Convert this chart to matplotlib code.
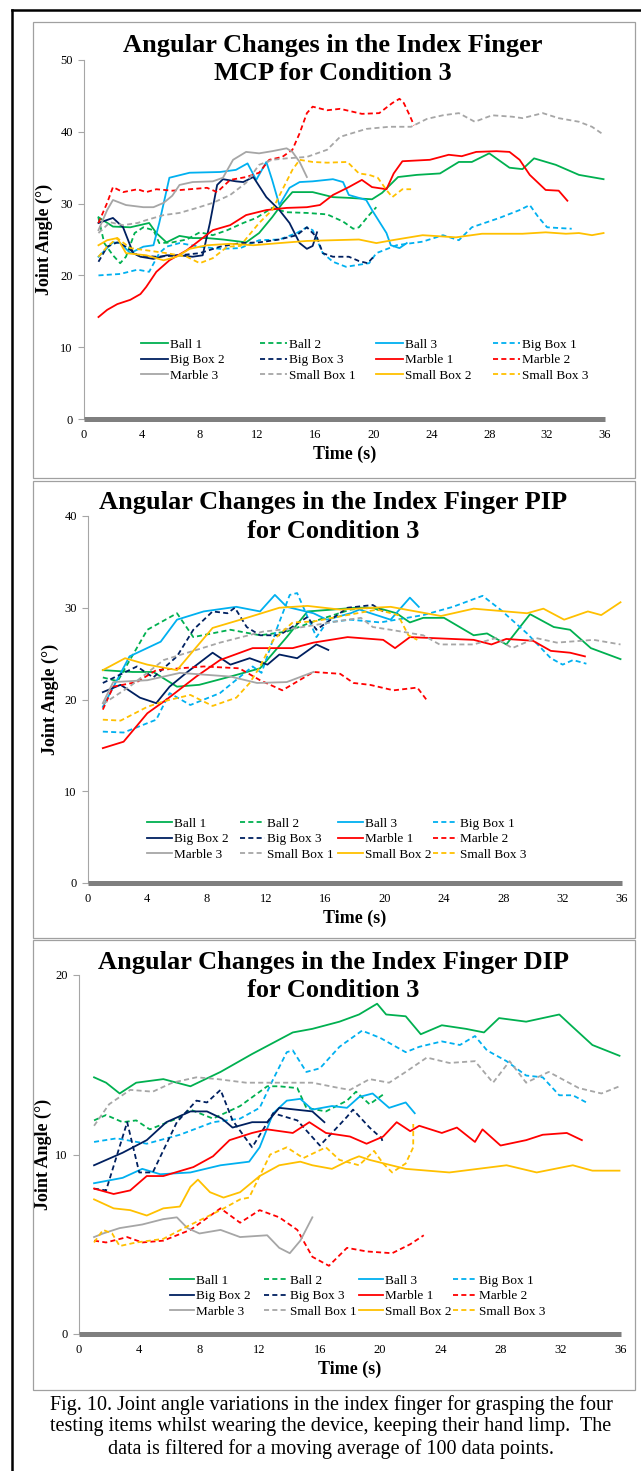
import matplotlib
matplotlib.use('Agg')
import matplotlib.pyplot as plt
from matplotlib.patches import Rectangle
from matplotlib.lines import Line2D
from matplotlib.legend import Legend

plt.rcParams['font.family'] = ['Liberation Serif', 'DejaVu Serif']

# Series names and styles (same for the three joints)
labels = ['Ball 1', 'Ball 2', 'Ball 3', 'Big Box 1', 'Big Box 2', 'Big Box 3',
          'Marble 1', 'Marble 2', 'Marble 3', 'Small Box 1', 'Small Box 2', 'Small Box 3']
colors = ['#00B050', '#00B050', '#00B0F0', '#00B0F0', '#002060', '#002060',
          '#FF0000', '#FF0000', '#A6A6A6', '#A6A6A6', '#FFC000', '#FFC000']
dash = (0, (2.8, 1.8))
styles = ['-', dash] * 6

time_ticks = [0, 4, 8, 12, 16, 20, 24, 28, 32, 36]

# ---------------- MCP (time s, angle deg) ----------------
mcp_ball_1 = [(1, 28.1), (2, 26.8), (3.2, 26.7), (4.5, 27.3), (5, 25.9), (5.7, 24.6), (6.6, 25.5), (7.5, 25.2),
              (8.5, 25.2), (9.6, 25), (11.2, 24.6), (12.1, 25.9), (13, 28.1), (13.7, 30), (14.4, 31.6), (15.8, 31.6),
              (17.2, 30.9), (18.3, 30.8), (19.9, 30.6), (20.6, 31.5), (21.7, 33.7), (23, 34), (24.6, 34.2),
              (25.9, 35.8), (26.8, 35.8), (28, 37), (29.4, 35), (30.3, 34.8), (31.1, 36.3), (32.6, 35.4),
              (34.2, 34), (35.9, 33.4)]
mcp_ball_2 = [(1, 28), (1.4, 24.5), (2, 22.8), (2.5, 21.7), (2.9, 22.6), (3.5, 25.9), (4.1, 26.7), (4.8, 26.3),
              (5.2, 24.5), (6.1, 24.6), (7.1, 25), (8, 26), (8.9, 25.6), (9.9, 26.3), (11, 27.3), (11.9, 28),
              (13, 29.4), (14, 28.8), (15.4, 28.7), (16.8, 28.5), (17.9, 27.5), (18.6, 26.5), (19, 26.7),
              (19.7, 28.4), (20.2, 29.5)]
mcp_ball_3 = [(1, 22.6), (2, 24.6), (2.5, 24.5), (3.2, 23.1), (4.1, 24), (4.8, 24.2), (5.2, 27.3), (5.9, 33.6),
              (7.3, 34.3), (9.4, 34.4), (10.5, 34.7), (11.3, 35.6), (11.9, 33.3), (12.6, 35.8), (13, 33.3),
              (13.5, 29.8), (14.2, 32.2), (14.9, 33), (15.8, 33.1), (17.2, 33.4), (17.9, 33), (18.3, 31.2),
              (19.5, 30.5), (19.9, 29.1), (20.9, 25.9), (21.2, 24.2), (21.8, 23.8), (22.3, 24.5)]
mcp_big_box_1 = [(1, 20), (2.5, 20.2), (3.7, 20.8), (4.5, 20.5), (5.2, 23.1), (5.7, 24), (6.6, 24.5), (8, 24),
                 (9.4, 23.7), (10.8, 23.8), (12.1, 24.9), (13.5, 25), (14.7, 25.9), (15.4, 26.7), (15.8, 26.3),
                 (16.5, 23.1), (17.2, 21.9), (18.1, 21.2), (19.7, 21.7), (20.2, 23.1), (21.6, 24.2), (23.4, 24.7),
                 (24.8, 25.6), (25.9, 24.9), (26.8, 26.7), (28.7, 28), (30.1, 29.1), (30.8, 29.8), (31.4, 28.1),
                 (32, 26.7), (32.8, 26.6), (33.7, 26.5)]
mcp_big_box_2 = [(1, 27.3), (2, 28), (2.7, 26.7), (3.4, 23.1), (3.9, 22.6), (4.8, 22.3), (5.7, 22.8), (6.6, 22.8),
                 (7.5, 22.6), (8.2, 22.8), (8.7, 27.3), (9.2, 32.6), (9.6, 33.4), (10.5, 33.1), (11, 33),
                 (11.7, 33.7), (12.6, 30.9), (13.5, 29.1), (14.2, 27.3), (14.9, 24.5), (15.4, 23.7), (15.8, 24.1),
                 (16.1, 26)]
mcp_big_box_3 = [(1, 21.9), (1.6, 24), (2.3, 24.6), (2.9, 24), (3.7, 22.8), (5, 22.6), (6.6, 22.8), (8, 23.1),
                 (9.4, 24), (10.8, 24.5), (12.1, 24.6), (13.5, 25), (14.7, 25.6), (15.4, 26.7), (16.1, 25.3),
                 (16.5, 23.1), (17.2, 22.6), (18.3, 22.6), (19, 22), (19.6, 21.7), (20.1, 22.8)]
mcp_marble_1 = [(1, 14.2), (1.6, 15.2), (2.3, 16), (3.2, 16.6), (3.9, 17.4), (4.3, 18.4), (5, 20.5), (5.9, 22.1),
                (7.1, 23.5), (8, 24.9), (8.9, 26.3), (10.1, 27), (11.2, 28.4), (12.6, 29.1), (14, 29.4),
                (15.4, 29.5), (16.3, 29.8), (17.2, 31.2), (18.3, 32.3), (19.2, 33.3), (19.9, 32.3), (20.9, 32),
                (21.4, 34.2), (22, 35.9), (23.9, 36.1), (25.2, 36.8), (26.1, 36.6), (27.1, 37.2), (28.5, 37.3),
                (29.4, 37.2), (30.1, 36.1), (30.8, 34), (31.9, 31.9), (32.8, 31.8), (33.4, 30.4)]
mcp_marble_2 = [(1, 27.3), (1.6, 30.1), (2, 32.3), (2.7, 31.6), (3.7, 32), (4.3, 31.6), (5, 32), (6.1, 31.8),
                (7.3, 32), (8.5, 32.2), (9.2, 31.6), (10.1, 33.3), (11.2, 33.7), (12.1, 34.3), (12.8, 36.1),
                (13.7, 36.5), (14.4, 37.5), (14.9, 39.8), (15.4, 42.6), (15.8, 43.5), (16.8, 43), (17.7, 43.2),
                (19.2, 42.5), (20.4, 42.6), (21.3, 44), (21.8, 44.6), (22.1, 44), (22.5, 42.3), (22.8, 40.9)]
mcp_marble_3 = [(1, 26.3), (1.6, 29.1), (2, 30.5), (2.9, 29.8), (4.1, 29.5), (4.8, 29.5), (5.5, 30.1), (6.1, 31.1),
                (6.6, 32.6), (7.5, 33), (8.9, 33.1), (9.6, 33.6), (10.3, 36.1), (11.2, 37.2), (12.1, 37),
                (13, 37.3), (14, 37.7), (14.4, 37.2), (14.9, 35.8), (15.4, 33.7)]
mcp_small_box_1 = [(1, 25.9), (1.8, 27.4), (2.7, 27), (3.7, 27.3), (4.3, 27.7), (5.5, 28.4), (6.6, 28.7),
                   (7.8, 29.4), (8.9, 30.1), (10.1, 31.2), (11.2, 32.9), (12.1, 35.4), (13, 36.1), (14, 36.3),
                   (15.4, 36.5), (16.8, 37.5), (17.7, 39.3), (19.5, 40.4), (21.1, 40.7), (22.6, 40.7), (23.7, 41.8),
                   (24.8, 42.3), (25.9, 42.6), (27, 41.4), (28.2, 42.3), (29.6, 42.1), (30.3, 41.9), (31.7, 42.6),
                   (32.8, 41.9), (34.2, 41.4), (35.1, 40.7), (35.9, 39.6)]
mcp_small_box_2 = [(1, 24.2), (1.6, 24.9), (2.3, 25.2), (2.9, 23.1), (4.3, 22.8), (5.5, 22.1), (6.4, 22.6),
                   (7.3, 23.7), (8.5, 24.2), (10.1, 24.4), (11.7, 24.2), (13.5, 24.5), (15.4, 24.8), (17.2, 24.9),
                   (19, 25), (20.2, 24.5), (21.3, 24.9), (23.4, 25.6), (25.7, 25.3), (27.5, 25.8), (30.3, 25.8),
                   (31.9, 26), (33.3, 25.8), (34.2, 25.9), (35.1, 25.6), (35.9, 25.9)]
mcp_small_box_3 = [(1, 22.6), (1.6, 24), (2.3, 25.2), (3.2, 23.8), (4.3, 23.5), (5.7, 23.1), (7.1, 22.6), (8, 21.7),
                   (8.9, 22.4), (9.9, 24), (10.8, 24.1), (11.4, 25.6), (12.1, 27.3), (13, 29.1), (13.7, 31.9),
                   (14.4, 34.7), (14.9, 36.1), (15.8, 35.8), (16.8, 35.7), (18.2, 35.8), (19, 34.2), (19.7, 34),
                   (20.3, 33.6), (20.9, 31.9), (21.3, 30.9), (22, 32), (22.6, 32)]

# ---------------- PIP ----------------
pip_ball_1 = [(1, 23.2), (3, 23), (4.4, 23), (6, 21.4), (7.5, 21.6), (9.6, 22.5), (11.6, 23.4), (13.4, 26.8),
              (14.8, 29.6), (16.5, 29.8), (18, 30), (19.5, 30), (20.8, 29.4), (21.7, 28.4), (22.6, 28.9),
              (24, 28.9), (26, 27), (26.9, 27.2), (28.2, 26), (29.8, 29.3), (31.4, 27.9), (32.5, 27.6),
              (33.9, 25.6), (35.9, 24.4)]
pip_ball_2 = [(1, 22.4), (2, 22), (4, 27.6), (6, 29.4), (7.1, 26.8), (9.6, 27.6), (11.6, 27), (13.4, 27.4),
              (15.2, 28.5), (17.7, 29.8), (19.2, 30), (19.8, 29.6)]
pip_ball_3 = [(1, 19.2), (2.8, 24.7), (4.9, 26.3), (6, 28.7), (7.8, 29.6), (10, 30.1), (11.6, 29.6), (12.6, 31.4),
              (13.4, 30.1), (15.2, 29.4), (16.1, 28.7), (17.7, 29.4), (18.3, 29.8), (20.4, 28.7), (21.7, 31.1),
              (22.3, 30.1)]
pip_big_box_1 = [(1, 16.5), (2.4, 16.4), (4.6, 17.8), (5.5, 20.7), (6.9, 19.4), (8.9, 20.7), (11.1, 23.6),
                 (11.7, 22.9), (12.7, 27.6), (13.6, 31.4), (14.1, 31.6), (15.4, 26.8), (16.1, 28.4), (17.7, 28.7),
                 (19.7, 28.4), (22.6, 29.2), (24.6, 30.1), (26.6, 31.3), (27.8, 29.8), (29.6, 27.2), (31.2, 24.5),
                 (32, 23.8), (32.7, 24.3), (33.6, 23.9)]
pip_big_box_2 = [(1, 20.8), (2.2, 21.6), (3.5, 20.2), (4.6, 19.6), (5.5, 21.4), (6.7, 23), (8.4, 25.1), (9.6, 23.8),
                 (10.9, 24.5), (12.1, 23.8), (12.9, 24.9), (14.1, 24.5), (15.4, 26), (16.2, 25.4)]
pip_big_box_3 = [(1, 21.8), (3.3, 23.6), (4.4, 22.4), (6, 24.7), (7.1, 27.6), (8.4, 29.6), (9.4, 29.4), (9.9, 30),
                 (10.7, 27.9), (11.6, 27), (12.9, 27), (14.8, 29), (15.4, 27.6), (17.5, 30), (19.2, 30.3),
                 (19.9, 29.6)]
pip_marble_1 = [(1, 14.7), (2.4, 15.4), (4, 18.5), (5.3, 20), (7.3, 22.5), (8.9, 24.3), (11.1, 25.6), (13.8, 25.6),
                (15.2, 26.2), (17.5, 26.8), (19.9, 26.5), (20.7, 25.6), (21.7, 26.8), (26, 26.5), (27.2, 26),
                (28.2, 26.6), (30, 26.4), (31.2, 25.3), (32.5, 25.1), (33.5, 24.7)]
pip_marble_2 = [(1, 18.9), (1.7, 21.4), (3.3, 21.9), (4.6, 23.2), (7.8, 23.6), (10.2, 23.4), (11.6, 22.1),
                (13.1, 21), (15.2, 23), (17, 22.8), (17.9, 21.8), (19, 21.6), (20.6, 21), (22.2, 21.3), (22.9, 19.8)]
pip_marble_3 = [(1, 19.6), (1.7, 21.9), (4, 22.1), (6.2, 22.9), (9.6, 22.5), (11.4, 21.8), (13.4, 21.9),
                (15.2, 23)]
pip_small_box_1 = [(1, 19.5), (2.8, 21.4), (5.1, 24.3), (7.3, 25.4), (8.9, 26.2), (11.8, 27.4), (14.1, 27.8),
                   (17.5, 28.7), (18.4, 28.9), (19.2, 27.9), (20.4, 27.6), (22.6, 27), (23.7, 26), (26, 26),
                   (27.5, 26.7), (28.6, 25.6), (30.2, 26.7), (31.6, 26.2), (34.1, 26.5), (35.9, 26)]
pip_small_box_2 = [(1, 23.2), (2.5, 24.5), (4, 23.8), (6, 23.2), (7.3, 25.7), (8.4, 27.8), (10.7, 28.9),
                   (12.9, 30), (14.8, 30.2), (17, 29.8), (20.4, 30.1), (23.8, 29.1), (26, 29.9), (29.6, 29.4),
                   (30.7, 29.9), (32.1, 28.7), (33.7, 29.6), (34.6, 29.2), (35.9, 30.6)]
pip_small_box_3 = [(1, 17.8), (2.2, 17.7), (4, 19.2), (5.1, 19.8), (6.9, 20.5), (8.4, 19.3), (10, 20.2),
                   (10.9, 21.8), (11.6, 23.6), (12.5, 26.5), (13.8, 28.4), (15.2, 28.5), (16.8, 29), (19.5, 29.8),
                   (20.9, 29.2), (21.6, 27), (22.2, 26.5)]

# ---------------- DIP ----------------
dip_ball_1 = [(1, 14.3), (1.8, 14), (2.7, 13.4), (3.8, 14), (5.6, 14.2), (7.4, 13.8), (9.4, 14.6), (11.5, 15.6),
              (14.2, 16.8), (15.5, 17), (17.3, 17.4), (18.6, 17.8), (19.8, 18.4), (20.4, 17.8), (21.7, 17.7),
              (22.7, 16.7), (24.1, 17.2), (25.7, 17), (26.9, 16.8), (27.9, 17.6), (29.7, 17.4), (31.9, 17.8),
              (32.8, 17.1), (34.1, 16.1), (35.9, 15.5)]
dip_ball_2 = [(1, 11.9), (1.8, 12.2), (2.9, 11.8), (3.8, 11.9), (4.7, 11.4), (6.5, 12), (7.4, 12.5), (8.9, 12),
              (10.7, 12.7), (12.5, 13.8), (13.3, 13.8), (14.5, 13.7), (15.1, 12.6), (16.4, 12.4), (17.8, 13),
              (18.4, 13.5), (19.3, 12.8), (20.3, 13.4)]
dip_ball_3 = [(1, 8.4), (2.9, 8.7), (4.2, 9.2), (5.4, 8.9), (7.4, 9), (9.4, 9.4), (11.3, 9.6), (12, 10.4),
              (12.9, 12.3), (13.8, 13), (14.7, 13.1), (15.5, 12.5), (16.8, 12.7), (17.8, 12.6), (18.6, 13.2),
              (19.5, 13.4), (20.6, 12.6), (21.7, 12.9), (22.3, 12.3)]
dip_big_box_1 = [(1, 10.7), (2.5, 10.9), (4.5, 10.6), (6.7, 11.1), (8.9, 11.8), (10.7, 12), (12, 12.6),
                 (12.9, 14.2), (13.8, 15.7), (14.2, 15.8), (15.1, 14.6), (16, 14.8), (17.3, 16), (18.8, 16.9),
                 (20, 16.5), (21.7, 15.7), (22.6, 16), (24.1, 16.3), (25.3, 16.1), (26.3, 16.6), (27.1, 15.8),
                 (28.4, 15.2), (29.7, 14.4), (30.8, 14.3), (31.9, 13.3), (32.8, 13.3), (33.7, 12.9)]
dip_big_box_2 = [(1, 9.4), (2.9, 10.1), (4.5, 10.8), (5.8, 11.8), (7.4, 12.4), (8.5, 12.4), (9.5, 12),
                 (10.2, 11.5), (11.5, 11.8), (12.5, 11.8), (13.3, 12.6), (15.5, 12.4), (16.3, 11.8)]
dip_big_box_3 = [(1, 8.1), (1.8, 8), (3.2, 11.8), (4, 9), (4.9, 9), (6.5, 11.8), (7.8, 13), (8.5, 12.9),
                 (9.4, 13.6), (10.2, 11.9), (11.5, 10.4), (12.9, 12.3), (14.5, 11.9), (16, 10.5), (16.8, 11.2),
                 (17.8, 12.1), (18.2, 12.5), (19.3, 11.5), (20.1, 10.9), (20.2, 10.6)]
dip_marble_1 = [(1, 8.1), (2.3, 7.8), (3.4, 8), (4.5, 8.8), (5.6, 8.8), (7.6, 9.3), (8.9, 9.9), (10, 10.8),
                (11.5, 11.2), (12.5, 11.4), (14.2, 11.2), (15.3, 11.8), (16.4, 11.2), (18, 11), (19.1, 10.6),
                (20.2, 11), (21.1, 11.8), (22, 11.3), (22.6, 11.6), (24.1, 11.2), (25.1, 11.5), (26.3, 10.7),
                (26.8, 11.4), (28, 10.5), (29.7, 10.8), (30.8, 11.1), (32.4, 11.2), (33.4, 10.8)]
dip_marble_2 = [(1, 5.2), (1.8, 5.1), (3.2, 5.4), (4.2, 5.1), (5.6, 5.2), (7.4, 5.8), (9.4, 7), (10.7, 6.2),
                (12, 6.9), (13.3, 6.5), (14.5, 5.8), (15.5, 4.3), (16.6, 3.8), (17.8, 4.8), (19.1, 4.6),
                (20.8, 4.5), (22, 5), (22.9, 5.5)]
dip_marble_3 = [(1, 5.4), (1.6, 5.6), (2.7, 5.9), (4.2, 6.1), (5.6, 6.4), (6.5, 6.5), (7.2, 5.9), (8, 5.6),
                (9.4, 5.8), (10.7, 5.4), (12.5, 5.5), (13.3, 4.8), (14, 4.5), (14.7, 5.2), (15.5, 6.5)]
dip_small_box_1 = [(1, 11.6), (2, 12.8), (3.4, 13.6), (4.9, 13.5), (6.2, 14), (7.8, 14.3), (9.2, 14.2), (11.1, 14),
                   (13.3, 14), (15.5, 14), (17.3, 13.7), (18, 13.6), (19.3, 14.2), (20.6, 14), (21.7, 14.6),
                   (23.1, 15.4), (24.6, 15.1), (26.3, 15.2), (27.5, 14), (28.6, 15.2), (29.7, 14), (31.2, 14.6),
                   (33.2, 13.7), (34.7, 13.4), (35.9, 13.8)]
dip_small_box_2 = [(1, 7.5), (2.3, 7), (3.4, 6.9), (4.5, 6.6), (5.6, 7), (6.7, 7.1), (7.4, 8.2), (7.9, 8.6),
                   (8.7, 7.9), (9.6, 7.6), (10.7, 7.9), (12, 8.8), (13.3, 9.4), (14.7, 9.6), (15.5, 9.4),
                   (16.8, 9.2), (18, 9.7), (18.6, 9.9), (19.3, 9.7), (21.7, 9.2), (24.6, 9), (28.4, 9.4),
                   (30.4, 9), (32.8, 9.4), (34.1, 9.1), (35.9, 9.1)]
dip_small_box_3 = [(1, 5.1), (1.6, 5.8), (2.2, 5.6), (2.7, 4.9), (3.8, 5.1), (5.6, 5.3), (7.2, 6), (9.4, 6.9),
                   (10.7, 7.5), (11.3, 7.6), (12, 8.8), (12.7, 10), (13.8, 10.4), (14.9, 9.8), (16.4, 10.4),
                   (17.3, 9.7), (18.6, 9.4), (19.6, 10.2), (20.2, 9.5), (20.8, 9), (21.7, 9.5), (22.2, 10.4),
                   (22.2, 11.7)]

mcp_series = [mcp_ball_1, mcp_ball_2, mcp_ball_3, mcp_big_box_1, mcp_big_box_2, mcp_big_box_3,
              mcp_marble_1, mcp_marble_2, mcp_marble_3, mcp_small_box_1, mcp_small_box_2, mcp_small_box_3]
pip_series = [pip_ball_1, pip_ball_2, pip_ball_3, pip_big_box_1, pip_big_box_2, pip_big_box_3,
              pip_marble_1, pip_marble_2, pip_marble_3, pip_small_box_1, pip_small_box_2, pip_small_box_3]
dip_series = [dip_ball_1, dip_ball_2, dip_ball_3, dip_big_box_1, dip_big_box_2, dip_big_box_3,
              dip_marble_1, dip_marble_2, dip_marble_3, dip_small_box_1, dip_small_box_2, dip_small_box_3]

W, H = 641, 1471


def fx(px):
    return px / W


def fy(py):
    return 1 - py / H


fig = plt.figure(figsize=(W / 100, H / 100), dpi=100)

# outer black frame (right and bottom sides fall outside the picture)
fig.add_artist(Line2D([fx(12), fx(12)], [0, fy(10)], color='black', lw=1.8))
fig.add_artist(Line2D([fx(12), 1], [fy(10), fy(10)], color='black', lw=1.8))


def draw_panel(series, title, ymax, yticks, axbox, border, title_y, leg_x, leg_y, handle_len, ylab_off):
    left, top, right, bottom = axbox
    # gray chart border
    x0, y0, x1, y1 = border
    fig.add_artist(Rectangle((fx(x0), fy(y1)), fx(x1) - fx(x0), fy(y0) - fy(y1),
                             transform=fig.transFigure, fill=False, ec='#A0A0A0', lw=0.9))
    ax = fig.add_axes([fx(left), fy(bottom), fx(right) - fx(left), fy(top) - fy(bottom)])
    lines = []
    for data, lab, col, st in zip(series, labels, colors, styles):
        t = [p[0] for p in data]
        v = [p[1] for p in data]
        ln, = ax.plot(t, v, color=col, linestyle=st, lw=1.3, label=lab,
                      solid_joinstyle='round', dash_joinstyle='round')
        lines.append(ln)
    ax.set_xlim(0, 36)
    ax.set_ylim(0, ymax)
    ax.set_xticks(time_ticks)
    ax.set_yticks(yticks)
    for s in ['top', 'right']:
        ax.spines[s].set_visible(False)
    ax.spines['left'].set_color('#A6A6A6')
    ax.spines['left'].set_linewidth(0.8)
    ax.spines['bottom'].set_color('#7F7F7F')
    ax.spines['bottom'].set_linewidth(3.6)
    ax.spines['bottom'].set_capstyle('butt')
    ax.tick_params(axis='y', direction='out', length=4, width=0.8, color='#A6A6A6',
                   labelsize=9, pad=4)
    ax.tick_params(axis='x', length=0, labelsize=9, pad=7)

    ax.set_xlabel('Time (s)', fontsize=13, fontweight='bold')
    ax.set_ylabel('Joint Angle (°)', fontsize=13, fontweight='bold')
    w = right - left
    h = bottom - top
    ax.xaxis.set_label_coords(0.5, -27 / h)
    ax.yaxis.set_label_coords(-ylab_off / w, 0.5)

    fig.text(fx(333), fy(title_y), title, ha='center', va='center', fontsize=19,
             fontweight='bold', linespacing=1.3)

    # legend: four columns of three entries
    for c in range(4):
        hs = [lines[c], lines[c + 4], lines[c + 8]]
        leg = Legend(ax, hs, [h_.get_label() for h_ in hs], loc='upper left',
                     bbox_to_anchor=((leg_x[c] - left) / w, (bottom - (leg_y - 8.5)) / h),
                     frameon=False, borderpad=0, borderaxespad=0, fontsize=9.5,
                     handlelength=handle_len, handletextpad=0.15, labelspacing=0.24)
        ax.add_artist(leg)
    return ax


draw_panel(mcp_series, 'Angular Changes in the Index Finger\nMCP for Condition 3', 50,
           [0, 10, 20, 30, 40, 50], (84, 60, 605, 419), (33, 22, 635, 478), 59.5,
           [141, 260, 376, 493], 347, 2.05, 31)
draw_panel(pip_series, 'Angular Changes in the Index Finger PIP\nfor Condition 3', 40,
           [0, 10, 20, 30, 40], (88, 516, 622, 883), (33, 481, 635, 938), 517,
           [147, 240, 338, 433], 826, 1.9, 29)
draw_panel(dip_series, 'Angular Changes in the Index Finger DIP\nfor Condition 3', 20,
           [0, 10, 20], (79, 975, 621, 1334), (33, 940, 635, 1390), 976.5,
           [170, 264, 359, 453], 1283, 1.85, 27)

caption = ('Fig. 10. Joint angle variations in the index finger for grasping the four\n'
           'testing items whilst wearing the device, keeping their hand limp.  The\n'
           'data is filtered for a moving average of 100 data points.')
fig.text(fx(331), fy(1427), caption, ha='center', va='center', fontsize=14.5, linespacing=1.16)

fig.savefig('out.png', dpi=100)
